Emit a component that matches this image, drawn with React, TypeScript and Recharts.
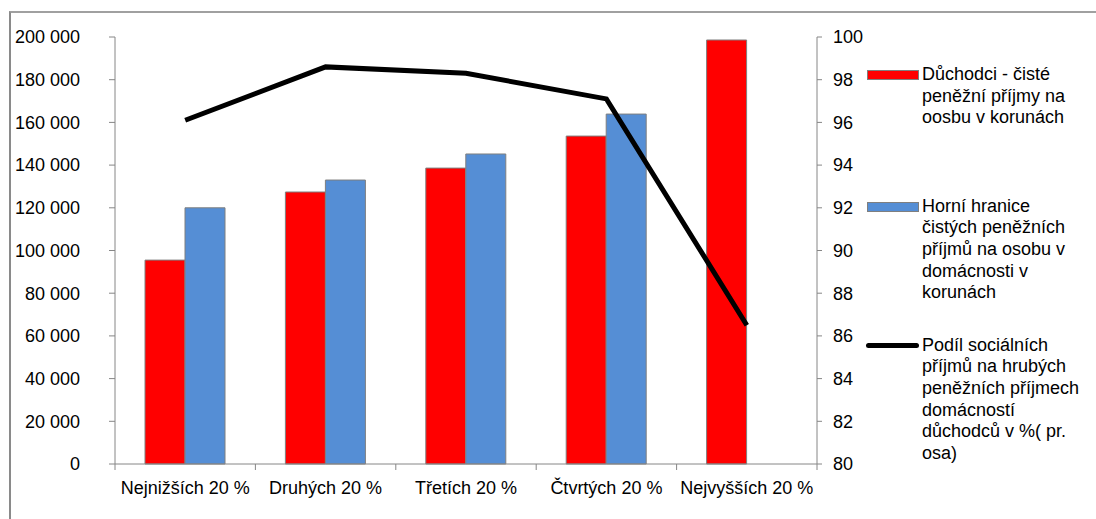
import React from "react";
import {
  ComposedChart,
  Bar,
  Line,
  XAxis,
  YAxis,
  Legend,
} from "recharts";

const categories = [
  "Nejnižších 20 %",
  "Druhých 20 %",
  "Třetích 20 %",
  "Čtvrtých 20 %",
  "Nejvyšších 20 %",
];
// Důchodci - čisté peněžní příjmy na osobu (Kč)
const pensionerIncome = [95500, 127400, 138600, 153600, 198600];
// Horní hranice čistých peněžních příjmů na osobu (Kč)
const upperBound = [120000, 133000, 145200, 163900, null];
// Podíl sociálních příjmů (%), pravá osa
const socialShare = [96.1, 98.6, 98.3, 97.1, 86.5];

const leftTicks = [0, 20000, 40000, 60000, 80000, 100000, 120000, 140000, 160000, 180000, 200000];
const rightTicks = [80, 82, 84, 86, 88, 90, 92, 94, 96, 98, 100];

const seriesLabels: Record<string, string[]> = {
  income: ["Důchodci - čisté", "peněžní příjmy na", "oosbu v korunách"],
  upper: ["Horní hranice", "čistých peněžních", "příjmů na osobu v", "domácnosti v", "korunách"],
  share: ["Podíl sociálních", "příjmů na hrubých", "peněžních příjmech", "domácností", "důchodců v %( pr.", "osa)"],
};
const legendOrder = ["income", "upper", "share"];

const data = categories.map((name, i) => ({
  name,
  income: pensionerIncome[i],
  upper: upperBound[i],
  share: socialShare[i],
}));

const W = 1096;
const H = 519;
const LEFT_AXIS_W = 115;
const RIGHT_AXIS_W = 279;
const TOP = 37;
const X_AXIS_H = 30;
const BOTTOM = 25;
const halfBand = (W - LEFT_AXIS_W - RIGHT_AXIS_W) / categories.length / 2;

const FONT = "'Liberation Sans', Arial, sans-serif";
const AXIS_GREY = "#868686";

const fmtThousands = (v: number) =>
  v === 0 ? "0" : String(v).replace(/\B(?=(\d{3})+(?!\d))/g, " ");

const CategoryTick = (props: any) => {
  const { x, y, payload, index } = props;
  const last = index === categories.length - 1;
  return (
    <g>
      <line x1={x - halfBand} y1={y} x2={x - halfBand} y2={y + 6} stroke={AXIS_GREY} />
      {last && <line x1={x + halfBand} y1={y} x2={x + halfBand} y2={y + 6} stroke={AXIS_GREY} />}
      <text x={x} y={y + 30} textAnchor="middle" fill="#000" fontSize={18} fontFamily={FONT}>
        {payload.value}
      </text>
    </g>
  );
};

const LegendBox = (props: any) => {
  const items = [...(props.payload || [])].sort(
    (a: any, b: any) => legendOrder.indexOf(a.dataKey) - legendOrder.indexOf(b.dataKey)
  );
  const gaps: Record<string, number> = { income: 0, upper: 67, share: 31 };
  return (
    <div style={{ fontFamily: FONT, fontSize: 18, color: "#000", lineHeight: "21.6px" }}>
      {items.map((it: any) => (
        <div key={it.dataKey} style={{ display: "flex", marginTop: gaps[it.dataKey] }}>
          <div style={{ width: 56, flex: "none", position: "relative", height: 21 }}>
            {it.dataKey === "share" ? (
              <div style={{ position: "absolute", left: 0, top: 8, width: 53, height: 5, background: "#000", borderRadius: 3 }} />
            ) : (
              <div
                style={{
                  position: "absolute",
                  left: 1,
                  top: 6,
                  width: 50,
                  height: 8,
                  background: it.color,
                  border: "1px solid #7f7f7f",
                }}
              />
            )}
          </div>
          <div>
            {seriesLabels[it.dataKey].map((l) => (
              <div key={l} style={{ whiteSpace: "nowrap" }}>{l}</div>
            ))}
          </div>
        </div>
      ))}
    </div>
  );
};

export default function App() {
  return (
    <div style={{ position: "fixed", left: 0, top: 0, width: W, height: H, background: "#fff", overflow: "hidden" }}>
      <div
        style={{
          position: "absolute",
          left: 9,
          top: 11,
          width: W,
          height: H,
          borderLeft: "2px solid #8a8a8a",
          borderTop: "2px solid #a0a0a0",
        }}
      />
      <ComposedChart
        width={W}
        height={H}
        data={data}
        margin={{ top: TOP, right: 0, bottom: BOTTOM, left: 0 }}
        barCategoryGap="21.4%"
        barGap={0}
      >
        <XAxis
          dataKey="name"
          height={X_AXIS_H}
          interval={0}
          tickLine={false}
          tickSize={0}
          tickMargin={0}
          stroke={AXIS_GREY}
          tick={<CategoryTick />}
        />
        <YAxis
          yAxisId="left"
          width={LEFT_AXIS_W}
          domain={[0, 200000]}
          ticks={leftTicks}
          tickFormatter={fmtThousands}
          stroke={AXIS_GREY}
          tickSize={6}
          tickMargin={29}
          tick={{ fill: "#000", fontSize: 18, fontFamily: FONT }}
          interval={0}
        />
        <YAxis
          yAxisId="right"
          orientation="right"
          width={RIGHT_AXIS_W}
          domain={[80, 100]}
          ticks={rightTicks}
          stroke={AXIS_GREY}
          tickSize={5}
          tickMargin={11}
          tick={{ fill: "#000", fontSize: 18, fontFamily: FONT, textAnchor: "start" }}
          interval={0}
        />
        <Legend
          layout="vertical"
          align="center"
          verticalAlign="middle"
          content={<LegendBox />}
          wrapperStyle={{ left: 866, top: 64, width: 225 }}
        />
        <Bar
          yAxisId="left"
          dataKey="income"
          name="income"
          fill="#ff0000"
          stroke="#7f7f7f"
          strokeWidth={1}
          barSize={40}
          isAnimationActive={false}
        />
        <Bar
          yAxisId="left"
          dataKey="upper"
          name="upper"
          fill="#558ed5"
          stroke="#7f7f7f"
          strokeWidth={1}
          barSize={40}
          isAnimationActive={false}
        />
        <Line
          yAxisId="right"
          dataKey="share"
          name="share"
          stroke="#000"
          strokeWidth={5}
          dot={false}
          activeDot={false}
          isAnimationActive={false}
        />
      </ComposedChart>
    </div>
  );
}
